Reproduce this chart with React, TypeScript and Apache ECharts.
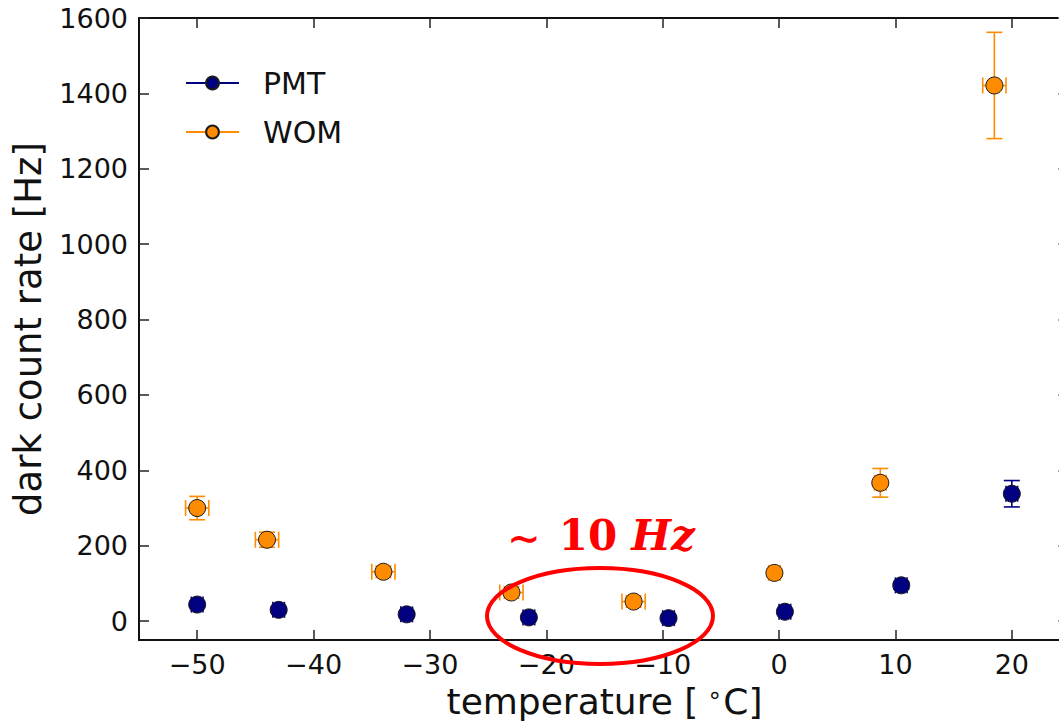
import React, { useEffect, useRef } from "react";
import * as echarts from "echarts";

// PMT measurements
const pmtTemp = [-50, -43, -32, -21.5, -9.5, 0.5, 10.5, 20];
const pmtRate = [44, 30, 18, 10, 8, 25, 95, 338];
const pmtRateErr = [6, 6, 5, 5, 5, 6, 10, 35];
const pmtTempErr = [0.5, 0.5, 0.5, 0.5, 0.5, 0.5, 0.5, 0.5];

// WOM measurements
const womTemp = [-50, -44, -34, -23, -12.5, -0.4, 8.7, 18.5];
const womRate = [300, 216, 131, 76, 52, 128, 367, 1421];
const womRateErr = [31, 20, 15, 15, 15, 10, 38, 141];
const womTempErr = [1, 1, 1, 1, 1, 0.5, 0.5, 1];

const xTicks = [-50, -40, -30, -20, -10, 0, 10, 20];
const yTicks = [0, 200, 400, 600, 800, 1000, 1200, 1400, 1600];

const PMT_COLOR = "#000080";
const WOM_COLOR = "#ff8c00";
const FONT = "DejaVu Sans";

const fmtNum = (v: number) => (v < 0 ? "\u2212" + Math.abs(v) : String(v));

const errorRender = (color: string) => (params: any, api: any) => {
  const x = api.value(0);
  const y = api.value(1);
  const xe = api.value(2);
  const ye = api.value(3);
  const top = api.coord([x, y + ye]);
  const bot = api.coord([x, y - ye]);
  const left = api.coord([x - xe, y]);
  const right = api.coord([x + xe, y]);
  const cap = 8;
  const style = { stroke: color, lineWidth: 1.6 };
  return {
    type: "group",
    children: [
      { type: "line", shape: { x1: top[0], y1: top[1], x2: bot[0], y2: bot[1] }, style },
      { type: "line", shape: { x1: top[0] - cap, y1: top[1], x2: top[0] + cap, y2: top[1] }, style },
      { type: "line", shape: { x1: bot[0] - cap, y1: bot[1], x2: bot[0] + cap, y2: bot[1] }, style },
      { type: "line", shape: { x1: left[0], y1: left[1], x2: right[0], y2: right[1] }, style },
      { type: "line", shape: { x1: left[0], y1: left[1] - cap, x2: left[0], y2: left[1] + cap }, style },
      { type: "line", shape: { x1: right[0], y1: right[1] - cap, x2: right[0], y2: right[1] + cap }, style },
    ],
  };
};

export default function App() {
  const ref = useRef<HTMLDivElement>(null);

  useEffect(() => {
    if (!ref.current) return;
    const chart = echarts.init(ref.current, null, { renderer: "svg" });

    const pmtPoints = pmtTemp.map((t, i) => [t, pmtRate[i]]);
    const womPoints = womTemp.map((t, i) => [t, womRate[i]]);
    const pmtErrData = pmtTemp.map((t, i) => [t, pmtRate[i], pmtTempErr[i], pmtRateErr[i]]);
    const womErrData = womTemp.map((t, i) => [t, womRate[i], womTempErr[i], womRateErr[i]]);

    const axisLine = { show: true, onZero: false, lineStyle: { color: "#111", width: 2 } };
    const tickStyle = { lineStyle: { color: "#222", width: 1.5 } };

    const option: any = {
      animation: false,
      backgroundColor: "#ffffff",
      grid: {
        left: 139,
        top: 18,
        right: -11,
        bottom: 81,
        containLabel: false,
        outerBoundsMode: "none",
      },
      legend: {
        data: ["PMT", "WOM"],
        orient: "vertical",
        left: 185,
        top: 68,
        padding: 0,
        itemWidth: 53,
        itemHeight: 16,
        itemGap: 19,
        lineStyle: { opacity: 1, width: 2 },
        textStyle: { fontFamily: FONT, fontSize: 30, color: "#111", padding: [0, 0, 0, 19] },
        selectedMode: false,
      },
      xAxis: [
        {
          type: "value",
          min: -55,
          max: 25,
          position: "bottom",
          name: "temperature [{s|\u2218}C]",
          nameLocation: "middle",
          nameGap: 39,
          nameTextStyle: {
            fontFamily: FONT,
            fontSize: 36,
            color: "#111",
            rich: {
              s: {
                fontFamily: FONT,
                fontSize: 24,
                color: "#111",
                padding: [0, 1, 14, 9],
              },
            },
          },
          axisLine,
          axisTick: { show: true, inside: true, length: 10, customValues: xTicks, ...tickStyle },
          axisLabel: {
            customValues: xTicks,
            formatter: (v: number) => fmtNum(v),
            fontFamily: FONT,
            fontSize: 27,
            color: "#111",
            margin: 11,
          },
          splitLine: { show: false },
        },
        {
          type: "value",
          min: -55,
          max: 25,
          position: "top",
          axisLine,
          axisTick: { show: true, inside: true, length: 10, customValues: xTicks, ...tickStyle },
          axisLabel: { show: false },
          splitLine: { show: false },
        },
      ],
      yAxis: [
        {
          type: "value",
          min: -50,
          max: 1600,
          position: "left",
          name: "dark count rate [Hz]",
          nameLocation: "middle",
          nameGap: 92,
          nameTextStyle: { fontFamily: FONT, fontSize: 37, color: "#111" },
          axisLine,
          axisTick: { show: true, inside: true, length: 10, customValues: yTicks, ...tickStyle },
          axisLabel: {
            customValues: yTicks,
            formatter: (v: number) => fmtNum(v),
            fontFamily: FONT,
            fontSize: 27,
            color: "#111",
            margin: 11,
          },
          splitLine: { show: false },
        },
        {
          type: "value",
          min: -50,
          max: 1600,
          position: "right",
          axisLine: { show: false, onZero: false },
          axisTick: {
            show: true,
            inside: true,
            length: 12,
            customValues: yTicks,
            lineStyle: { color: "#888", width: 1.5 },
          },
          axisLabel: { show: false },
          splitLine: { show: false },
        },
      ],
      series: [
        {
          name: "PMT err",
          type: "custom",
          renderItem: errorRender(PMT_COLOR),
          data: pmtErrData,
          encode: { x: 0, y: 1 },
          z: 2,
          silent: true,
        },
        {
          name: "WOM err",
          type: "custom",
          renderItem: errorRender(WOM_COLOR),
          data: womErrData,
          encode: { x: 0, y: 1 },
          z: 2,
          silent: true,
        },
        {
          name: "PMT",
          type: "line",
          data: pmtPoints,
          symbol: "circle",
          symbolSize: 17,
          showSymbol: true,
          showAllSymbol: true,
          color: PMT_COLOR,
          itemStyle: { color: PMT_COLOR, borderColor: "#1a1a1a", borderWidth: 1 },
          lineStyle: { opacity: 0, width: 2, color: PMT_COLOR },
          emphasis: { disabled: true },
          z: 5,
        },
        {
          name: "WOM",
          type: "line",
          data: womPoints,
          symbol: "circle",
          symbolSize: 17,
          showSymbol: true,
          showAllSymbol: true,
          color: WOM_COLOR,
          itemStyle: { color: WOM_COLOR, borderColor: "#1a1a1a", borderWidth: 1 },
          lineStyle: { opacity: 0, width: 2, color: WOM_COLOR },
          emphasis: { disabled: true },
          z: 5,
        },
      ],
      graphic: [
        {
          type: "ellipse",
          z: 100,
          shape: { cx: 600, cy: 616, rx: 113, ry: 48 },
          style: { fill: "none", stroke: "#ff0000", lineWidth: 4 },
        },
        {
          type: "text",
          z: 100,
          x: 601,
          y: 535,
          style: {
            text: "{a|\u223C}{b|10}{c|Hz}",
            align: "center",
            verticalAlign: "middle",
            rich: {
              a: {
                fontFamily: "DejaVu Serif",
                fontSize: 40,
                fontWeight: "bold",
                fill: "#ff0000",
                padding: [4, 18, 0, 0],
              },
              b: {
                fontFamily: "DejaVu Serif",
                fontSize: 42,
                fontWeight: "bold",
                fill: "#ff0000",
                padding: [0, 14, 0, 0],
              },
              c: {
                fontFamily: "DejaVu Serif",
                fontSize: 42,
                fontWeight: "bold",
                fontStyle: "italic",
                fill: "#ff0000",
              },
            },
          },
        },
      ],
    };

    chart.setOption(option);
    return () => chart.dispose();
  }, []);

  return (
    <div
      ref={ref}
      style={{ position: "absolute", left: 0, top: 0, width: 1059, height: 721, background: "#fff" }}
    />
  );
}
